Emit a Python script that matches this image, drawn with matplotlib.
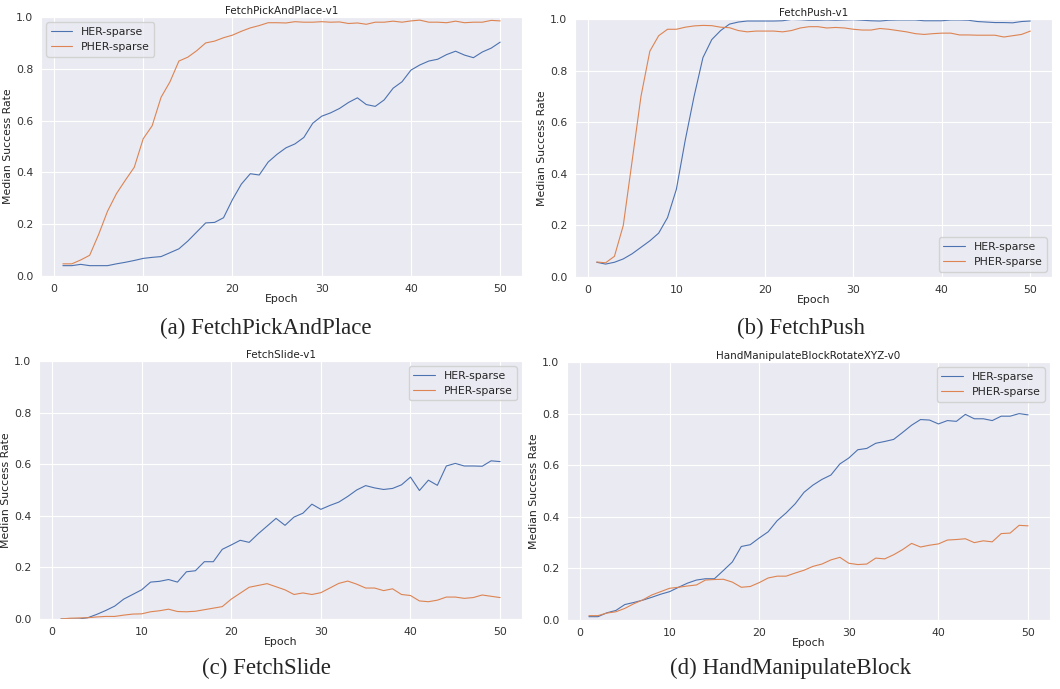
import numpy as np
import matplotlib
matplotlib.use("Agg")
import matplotlib.pyplot as plt
import seaborn as sns

# -----------------------------------------
# Data (median success rate per epoch)
# -----------------------------------------
epochs = list(range(1, 51))

pick_her = [0.040, 0.040, 0.045, 0.040, 0.040, 0.040, 0.047, 0.053, 0.060, 0.068,
            0.072, 0.075, 0.090, 0.105, 0.135, 0.170, 0.205, 0.207, 0.225, 0.295,
            0.355, 0.395, 0.390, 0.440, 0.470, 0.495, 0.510, 0.535, 0.590, 0.617,
            0.630, 0.647, 0.670, 0.688, 0.662, 0.655, 0.680, 0.725, 0.750, 0.795,
            0.815, 0.830, 0.837, 0.855, 0.868, 0.853, 0.843, 0.865, 0.880, 0.903]
pick_pher = [0.047, 0.047, 0.062, 0.080, 0.160, 0.250, 0.318, 0.370, 0.420, 0.530,
             0.580, 0.690, 0.750, 0.830, 0.845, 0.870, 0.900, 0.907, 0.920, 0.930,
             0.945, 0.958, 0.967, 0.978, 0.978, 0.977, 0.982, 0.980, 0.980, 0.982,
             0.980, 0.981, 0.975, 0.977, 0.972, 0.980, 0.980, 0.984, 0.980, 0.985,
             0.988, 0.980, 0.980, 0.978, 0.984, 0.978, 0.980, 0.980, 0.987, 0.985]

push_her = [0.057, 0.050, 0.057, 0.070, 0.090, 0.115, 0.140, 0.170, 0.230, 0.340,
            0.530, 0.700, 0.850, 0.920, 0.955, 0.980, 0.988, 0.992, 0.992, 0.992,
            0.992, 0.993, 0.998, 0.997, 0.995, 0.995, 0.996, 0.995, 0.996, 0.997,
            0.995, 0.993, 0.992, 0.995, 0.996, 0.996, 0.996, 0.993, 0.993, 0.993,
            0.996, 0.996, 0.995, 0.990, 0.988, 0.986, 0.986, 0.985, 0.990, 0.992]
push_pher = [0.058, 0.055, 0.080, 0.200, 0.450, 0.700, 0.875, 0.935, 0.960, 0.960,
             0.968, 0.973, 0.975, 0.974, 0.968, 0.966, 0.955, 0.950, 0.953, 0.953,
             0.953, 0.950, 0.955, 0.965, 0.970, 0.970, 0.965, 0.967, 0.965, 0.960,
             0.957, 0.957, 0.963, 0.960, 0.955, 0.950, 0.943, 0.940, 0.943, 0.945,
             0.945, 0.938, 0.938, 0.937, 0.937, 0.937, 0.930, 0.935, 0.940, 0.953]

slide_her = [0.000, 0.000, 0.000, 0.005, 0.018, 0.033, 0.050, 0.077, 0.095, 0.113,
             0.143, 0.146, 0.153, 0.143, 0.183, 0.187, 0.222, 0.222, 0.270, 0.287,
             0.305, 0.297, 0.330, 0.360, 0.390, 0.363, 0.395, 0.410, 0.445, 0.425,
             0.440, 0.453, 0.475, 0.500, 0.517, 0.508, 0.502, 0.506, 0.520, 0.550,
             0.498, 0.538, 0.518, 0.593, 0.603, 0.593, 0.593, 0.592, 0.613, 0.610]
slide_pher = [0.000, 0.003, 0.004, 0.005, 0.008, 0.010, 0.010, 0.015, 0.019, 0.020,
              0.028, 0.032, 0.038, 0.029, 0.028, 0.030, 0.036, 0.042, 0.048, 0.077,
              0.100, 0.123, 0.130, 0.137, 0.125, 0.113, 0.095, 0.101, 0.095, 0.102,
              0.120, 0.138, 0.147, 0.135, 0.120, 0.120, 0.110, 0.117, 0.095, 0.091,
              0.070, 0.067, 0.073, 0.085, 0.085, 0.080, 0.083, 0.093, 0.088, 0.083]

block_her = [0.013, 0.013, 0.028, 0.037, 0.060, 0.068, 0.077, 0.088, 0.100, 0.110,
             0.127, 0.143, 0.155, 0.160, 0.160, 0.192, 0.225, 0.285, 0.292, 0.318,
             0.342, 0.385, 0.415, 0.450, 0.495, 0.523, 0.545, 0.562, 0.605, 0.628,
             0.660, 0.665, 0.685, 0.692, 0.700, 0.727, 0.755, 0.777, 0.775, 0.760,
             0.773, 0.770, 0.797, 0.780, 0.780, 0.773, 0.790, 0.790, 0.800, 0.795]
block_pher = [0.017, 0.017, 0.027, 0.032, 0.045, 0.063, 0.078, 0.097, 0.110, 0.123,
              0.127, 0.132, 0.136, 0.155, 0.157, 0.158, 0.147, 0.127, 0.130, 0.145,
              0.163, 0.170, 0.170, 0.182, 0.193, 0.208, 0.217, 0.233, 0.243, 0.220,
              0.215, 0.217, 0.240, 0.237, 0.253, 0.273, 0.297, 0.283, 0.290, 0.295,
              0.310, 0.312, 0.315, 0.300, 0.307, 0.303, 0.335, 0.337, 0.367, 0.365]

titles = ["FetchPickAndPlace-v1", "FetchPush-v1", "FetchSlide-v1",
          "HandManipulateBlockRotateXYZ-v0"]
captions = ["(a) FetchPickAndPlace", "(b) FetchPush", "(c) FetchSlide",
            "(d) HandManipulateBlock"]
series_labels = ["HER-sparse", "PHER-sparse"]

# -----------------------------------------
# Figure
# -----------------------------------------
sns.set_style("darkgrid")
plt.rcParams["font.family"] = ["DejaVu Sans"]

fig = plt.figure(figsize=(10.6, 6.89), dpi=100)

# axes boxes in figure fractions [left, bottom, width, height]
boxes = [[0.0387, 0.5994, 0.4538, 0.3759],
         [0.5425, 0.5980, 0.4500, 0.3745],
         [0.0368, 0.1016, 0.4557, 0.3745],
         [0.5349, 0.1001, 0.4557, 0.3745]]
legend_locs = ["upper left", "lower right", "upper right", "upper right"]
data = [(pick_her, pick_pher), (push_her, push_pher),
        (slide_her, slide_pher), (block_her, block_pher)]
colors = sns.color_palette("deep")[:2]

for box, title, (her, pher), loc in zip(boxes, titles, data, legend_locs):
    ax = fig.add_axes(box)
    ax.plot(epochs, her, color=colors[0], linewidth=0.8, label=series_labels[0])
    ax.plot(epochs, pher, color=colors[1], linewidth=0.8, label=series_labels[1])
    ax.set_ylim(0, 1.0)
    ax.set_xlim(-1.45, 52.45)
    ax.set_xticks([0, 10, 20, 30, 40, 50])
    ax.set_yticks([0.0, 0.2, 0.4, 0.6, 0.8, 1.0])
    ax.tick_params(labelsize=7.8, pad=2, colors="#333333")
    ax.set_title(title, fontsize=7.5, pad=2, color="#222222")
    ax.set_xlabel("Epoch", fontsize=7.8, labelpad=0, color="#222222")
    ax.set_ylabel("Median Success Rate", fontsize=7.8, labelpad=2, color="#222222")
    ax.legend(loc=loc, fontsize=7.8, frameon=True)

# subfigure captions
cap_pos = [(266, 328), (801, 328), (266, 668), (791, 668)]
for (x, y), cap in zip(cap_pos, captions):
    fig.text(x / 1060, 1 - y / 689, cap, ha="center", va="center",
             fontsize=16.5, family=["Liberation Serif", "DejaVu Serif"])

fig.savefig("out.png", dpi=100)
